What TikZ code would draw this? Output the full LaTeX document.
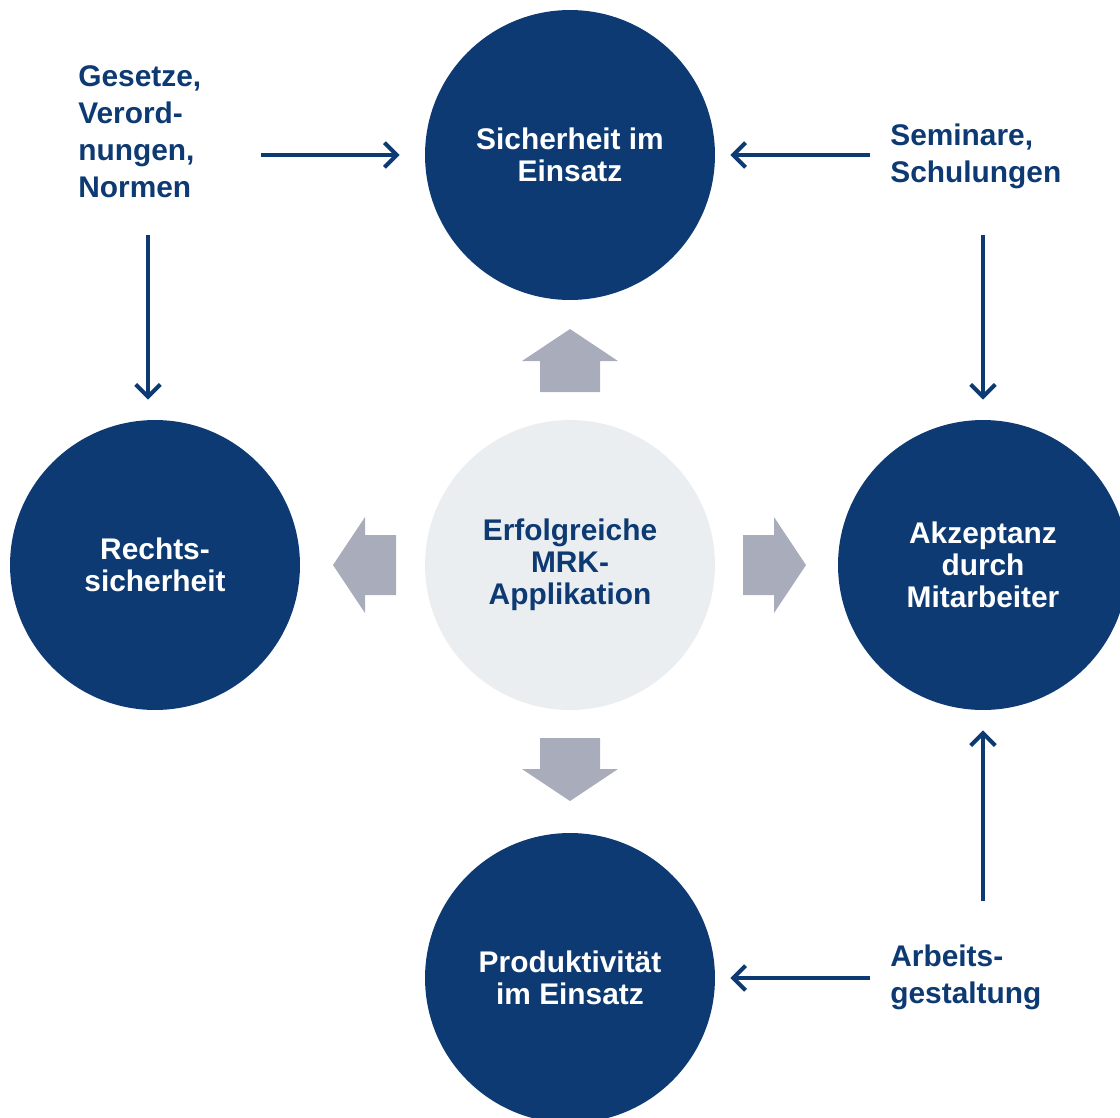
\documentclass[tikz,border=0pt]{standalone}
\usepackage{fontspec}
\setmainfont{Liberation Sans}
\usetikzlibrary{arrows.meta}
\definecolor{mrkblau}{RGB}{13,58,115}
\definecolor{mrkgrau}{RGB}{169,173,187}
\definecolor{mrkhell}{RGB}{235,238,240}

\begin{document}
\begin{tikzpicture}[x=0.02cm,y=-0.02cm,
	kreis/.style={circle,fill=mrkblau,minimum size=5.8cm,inner sep=0pt,text=white,
		font=\fontsize{17}{18.2}\selectfont\bfseries,align=center},
	mitte/.style={kreis,fill=mrkhell,text=mrkblau},
	quelle/.style={anchor=west,inner sep=0pt,text=mrkblau,
		font=\fontsize{17}{21}\selectfont\bfseries,align=left},
	pfeil/.style={draw=mrkblau,line width=2.3pt,-{Straight Barb[length=7pt,width=14pt]}},
	blockpfeil/.pic={\fill [mrkgrau] (0,-30) -- (31,-30) -- (31,-48) -- (63,0)
		-- (31,48) -- (31,30) -- (0,30) -- cycle;}]
	\useasboundingbox (0,0) rectangle (1120,1117);

	% Kreise
	\node [mitte] (mrk) at (570,565) {Erfolgreiche\\MRK-\\Applikation};
	\node [kreis] (sicherheit) at (570,155) {Sicherheit im\\Einsatz};
	\node [kreis] (rechts) at (155,565) {Rechts-\\sicherheit};
	\node [kreis] (akzeptanz) at (983,565) {Akzeptanz\\durch\\Mitarbeiter};
	\node [kreis] (produktiv) at (570,978) {Produktivität\\im Einsatz};

	% Blockpfeile aus der Mitte
	\pic [rotate=90] at (570,392) {blockpfeil};
	\pic [rotate=-90] at (570,738) {blockpfeil};
	\pic [rotate=180] at (396,565) {blockpfeil};
	\pic at (743,565) {blockpfeil};

	% Einflussfaktoren
	\node [quelle] (gesetze) at (78,132) {Gesetze,\\Verord-\\nungen,\\Normen};
	\node [quelle] (seminare) at (890,156) {Seminare,\\Schulungen};
	\node [quelle] (arbeit) at (890,977) {Arbeits-\\gestaltung};

	\draw [pfeil,shorten <=1.18cm,shorten >=0.5cm] (gesetze.east |- sicherheit.west) -- (sicherheit.west);
	\draw [pfeil,shorten <=0.4cm,shorten >=0.3cm] (seminare.west |- sicherheit.east) -- (sicherheit.east);
	\draw [pfeil,shorten <=0.74cm,shorten >=0.4cm] ([xshift=-0.14cm]gesetze.south -| rechts.north) -- ([xshift=-0.14cm]rechts.north);
	\draw [pfeil,shorten <=0.92cm,shorten >=0.4cm] (seminare.south -| akzeptanz.north) -- (akzeptanz.north);
	\draw [pfeil,shorten <=0.86cm,shorten >=0.4cm] (arbeit.north -| akzeptanz.south) -- (akzeptanz.south);
	\draw [pfeil,shorten <=0.4cm,shorten >=0.3cm] (arbeit.west |- produktiv.east) -- (produktiv.east);
\end{tikzpicture}
\end{document}
